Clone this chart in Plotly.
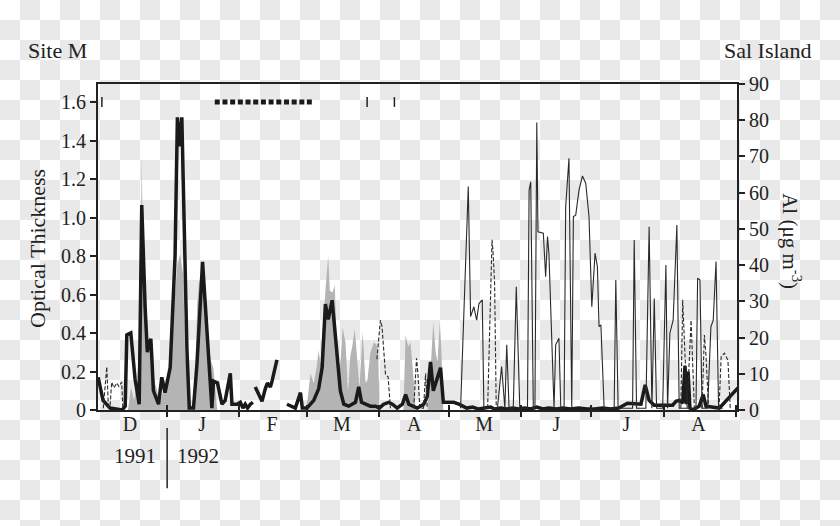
import numpy as np
import pandas as pd
import plotly.graph_objects as go

# days counted from 1 Dec 1991
origin = pd.Timestamp("1991-12-01")

thick_days = [
    1.4, 3.5, 6.5, 11.7, 13.0, 13.7, 15.4, 17.25, 19.0, 20.1,
    21.55, 22.5, 23.4, 24.0, 24.4, 25.1, 27.3, 28.7, 30.1, 32.3,
    34.4, 35.4, 36.3, 37.3, 39.5, 40.5, 42.3, 43.8, 46.2, 48.1,
    50.2, 50.9, 52.6, 54.5, 55.9, 58.1, 58.8, 61.0, 62.4, 63.5,
    64.5, 65.5, 66.7, 67.8, 68.3, 68.8, 71.7, 73.1, 74.0, 75.3,
    76.0, 78.1, 80.0, 82.4, 84.6, 86.0, 88.2, 89.0, 91.0, 93.9,
    96.0, 97.5, 98.9, 100.1, 101.8, 102.5, 103.9, 105.3, 106.8, 108.9,
    111.8, 113.2, 114.4, 116.1, 118.2, 120.4, 122.1, 123.9, 126.1, 127.6,
    129.7, 131.9, 133.3, 134.7, 136.8, 138.3, 139.7, 141.1, 142.6, 144.0,
    145.2, 146.4, 147.6, 148.3, 149.5, 151.2, 154.0, 156.2, 157.6, 159.5,
    162.1, 164.6, 167.2, 169.8, 171.5, 174.1, 176.7, 179.3, 181.8, 184.4,
    187.0, 189.6, 192.2, 194.7, 198.2, 200.7, 204.2, 207.6, 211.1, 214.5,
    217.9, 221.4, 224.8, 227.1, 228.5, 234.3, 236.1, 237.8, 240.0, 247.9,
    249.3, 250.7, 252.2, 253.2, 253.8, 254.5, 255.3, 256.5, 259.3, 261.0,
    262.2, 267.9, 275.9,
]
thick_vals = [
    0.17, 0.05, 0.01, 0.0, 0.02, 0.39, 0.40, 0.16, 0.03, 1.065,
    0.535, 0.30, 0.35, 0.37, 0.28, 0.10, 0.03, 0.17, 0.09, 0.22,
    0.80, 1.52, 1.37, 1.52, 0.31, 0.01, 0.01, 0.24, 0.77, 0.38,
    0.01, 0.15, 0.14, 0.03, 0.05, 0.19, 0.03, 0.03, 0.04, 0.01,
    0.03, 0.01, 0.03, 0.04, None, 0.12, 0.045, 0.11, 0.14, 0.12,
    0.15, 0.26, None, 0.03, 0.02, 0.01, 0.09, 0.01, 0.01, 0.05,
    0.11, 0.22, 0.55, 0.47, 0.57, 0.48, 0.28, 0.10, 0.03, 0.02,
    0.04, 0.12, 0.04, 0.03, 0.02, 0.02, 0.01, 0.03, 0.04, 0.03,
    0.01, 0.03, 0.08, 0.03, 0.02, 0.01, 0.02, 0.03, 0.07, 0.25,
    0.10, 0.15, 0.20, 0.22, 0.04, 0.04, 0.04, 0.03, 0.02, 0.01,
    0.015, 0.005, 0.01, 0.015, 0.005, 0.01, 0.005, 0.01, 0.005, 0.01,
    0.005, 0.015, 0.005, 0.01, 0.005, 0.01, 0.005, 0.01, 0.005, 0.005,
    0.01, 0.005, 0.01, 0.026, 0.035, 0.03, 0.13, 0.05, 0.025, 0.025,
    0.045, 0.05, 0.035, 0.23, 0.03, 0.20, 0.01, 0.0, 0.02, 0.08,
    0.02, 0.01, 0.115,
]

gray_days = [
    14.2, 15.5, 16.8, 18.1, 19.2, 20.1, 20.7, 21.5, 22.8, 24.1,
    25.0, 25.8, 26.7, 27.6, 28.4, 29.3, 30.6, 32.3, 34.0, 35.4,
    36.6, 37.9, 38.7, 39.5, 40.0, 40.9, 42.2, 43.0, 43.9, 44.8,
    45.6, 46.5, 47.3, 48.2, 49.0, 49.9, 50.8, 51.6, 52.5,
    90.3, 91.2, 92.5, 93.9, 95.1, 96.0, 96.8, 97.8, 98.9, 100.1,
    100.8, 102.0, 102.9, 103.6, 104.4, 105.4, 106.3, 107.5, 108.6, 109.6,
    110.4, 111.5, 112.5, 113.5, 114.9, 116.1, 116.9, 118.2, 119.7, 120.8,
    121.6, 122.1,
    132.4, 133.3, 134.4, 135.4, 136.5, 137.6,
    142.7, 144.0, 145.2, 146.2, 147.0, 148.0, 148.7, 149.5,
]
gray_vals = [
    0.0, 0.12, 0.05, 0.15, 0.35, 1.32, 0.70, 0.45, 0.33, 0.35,
    0.20, 0.14, 0.10, 0.04, 0.06, 0.10, 0.14, 0.25, 0.55, 0.75,
    0.81, 0.70, 0.30, 0.21, 0.05, 0.0, 0.0, 0.15, 0.55, 0.68,
    0.62, 0.66, 0.47, 0.42, 0.30, 0.25, 0.22, 0.12, 0.0,
    0.0, 0.05, 0.19, 0.14, 0.22, 0.31, 0.24, 0.45, 0.62, 0.80,
    0.62, 0.61, 0.65, 0.40, 0.16, 0.25, 0.43, 0.35, 0.10, 0.28,
    0.33, 0.42, 0.28, 0.12, 0.405, 0.14, 0.15, 0.30, 0.35, 0.34,
    0.28, 0.0,
    0.0, 0.39, 0.33, 0.35, 0.20, 0.0,
    0.0, 0.20, 0.46, 0.30, 0.25, 0.46, 0.30, 0.0,
]

dash_days = [
    3.6, 5.1, 5.8, 6.5, 7.2, 8.2, 9.4, 10.3, 11.5, 12.0, 12.5,
    121.0, 122.5, 123.2, 123.9, 124.7, 125.8, 126.8, 127.3,
    136.8, 138.0, 138.6, 139.4, 141.0, 141.9, 142.6, 143.1,
    168.5, 170.0, 170.4, 170.8, 171.5, 172.2, 172.7,
    251.4, 252.2, 253.2, 254.1, 255.8, 257.2, 257.7,
    260.5, 261.5, 262.2, 263.3, 263.8,
    267.8, 268.7, 270.1, 271.6, 272.6,
]
dash_vals = [
    0.5, 11.9, 0.9, 1.0, 7.7, 6.1, 7.5, 6.5, 7.7, 0.5, None,
    14.0, 24.8, 23.0, 16.6, 9.7, 9.2, 0.5, None,
    0.5, 14.3, 10.0, 0.5, 0.5, 10.1, 0.5, None,
    0.5, 40.0, 47.0, 44.0, 35.0, 0.5, None,
    0.5, 30.4, 15.0, 0.5, 24.8, 0.5, None,
    0.5, 20.7, 15.0, 0.5, None,
    0.5, 14.7, 15.7, 13.8, 0.5,
]

thin_days = [
    156.9, 160.2, 161.2, 162.6, 163.8, 164.8, 166.2, 166.9, 172.7, 174.5,
    175.9, 176.7, 177.7, 179.5, 180.8, 182.3, 185.6, 186.3, 187.0, 188.1,
    188.8, 189.6, 190.1, 192.4, 193.4, 194.2, 194.8, 197.0, 197.7, 199.1,
    199.9, 201.3, 202.0, 203.4, 204.6, 205.3, 206.3, 207.7, 209.2, 210.6,
    212.0, 213.2, 214.6, 215.6, 216.3, 217.1, 218.5, 222.8, 223.5, 224.5,
    230.7, 231.4, 232.4, 236.4, 237.8, 239.0, 240.0, 241.0, 243.6, 245.0,
    245.7, 246.7, 248.1, 249.0, 249.7, 250.7, 257.9, 258.6, 259.6, 260.5,
    262.9, 264.3, 265.3, 266.5, 267.6, 269.4,
]
thin_vals = [
    0.5, 61.7, 25.8, 28.5, 24.8, 29.4, 30.4, 0.5, 0.5, 12.0,
    0.5, 18.0, 0.5, 0.5, 34.0, 0.5, 0.5, 60.7, 63.0, 0.5,
    0.5, 79.4, 49.2, 48.8, 36.8, 47.9, 43.3, 0.5, 18.0, 19.8,
    0.5, 0.5, 56.1, 69.5, 0.5, 53.4, 53.8, 60.7, 64.6, 62.6,
    53.4, 28.5, 43.3, 39.6, 23.0, 23.5, 0.5, 0.5, 35.9, 0.5,
    0.5, 46.9, 0.5, 0.5, 50.6, 0.5, 30.8, 0.5, 0.5, 40.0,
    0.5, 21.2, 24.8, 43.3, 51.1, 0.5, 0.5, 36.4, 35.9, 0.5,
    0.5, 23.0, 24.8, 41.0, 0.5, 0.5,
]

square_days = [52.5, 55.8, 59.1, 62.4, 65.7, 69.0, 72.3, 75.6, 78.9, 82.2, 85.5, 88.8, 92.0]
bar_days = [3.0, 116.8, 128.5]

month_starts = ["1992-01-01", "1992-02-01", "1992-03-01", "1992-04-01", "1992-05-01",
                "1992-06-01", "1992-07-01", "1992-08-01", "1992-09-01"]
month_mids = ["1991-12-16", "1992-01-16", "1992-02-15", "1992-03-16", "1992-04-16",
              "1992-05-16", "1992-06-16", "1992-07-16", "1992-08-16"]
month_labels = ["D", "J", "F", "M", "A", "M", "J", "J", "A"]

left_ticks = [0, 0.2, 0.4, 0.6, 0.8, 1.0, 1.2, 1.4, 1.6]
left_labels = ["0", "0.2", "0.4", "0.6", "0.8", "1.0", "1.2", "1.4", "1.6"]


def to_dates(days):
    return origin + pd.to_timedelta(np.array(days, dtype=float), unit="D")


ink = "#222222"
serif = "Liberation Serif"
xrange_ = ["1991-12-02 08:00", "1992-09-01 12:00"]

fig = go.Figure()

fig.add_trace(go.Scatter(
    x=to_dates(gray_days), y=gray_vals, mode="lines", fill="tozeroy",
    fillcolor="#b4b4b4", line=dict(width=0, color="#b4b4b4"), hoverinfo="skip",
))
fig.add_trace(go.Scatter(
    x=to_dates(thick_days), y=thick_vals, mode="lines",
    line=dict(color="#1a1a1a", width=3.5), cliponaxis=False,
))
fig.add_trace(go.Scatter(
    x=to_dates(square_days), y=[1.6] * len(square_days), mode="markers",
    marker=dict(symbol="square", size=5, color="#1a1a1a"),
))
fig.add_trace(go.Scatter(
    x=to_dates(bar_days), y=[1.6] * len(bar_days), mode="markers",
    marker=dict(symbol="line-ns", size=7, line=dict(width=1.5, color=ink)),
))
fig.add_trace(go.Scatter(
    x=to_dates(thin_days), y=thin_vals, mode="lines", xaxis="x2", yaxis="y2",
    line=dict(color="#2a2a2a", width=1.1),
))
fig.add_trace(go.Scatter(
    x=to_dates(dash_days), y=dash_vals, mode="lines", xaxis="x2", yaxis="y2",
    line=dict(color="#2a2a2a", width=1.1, dash="4px,2px"),
))

# checkerboard backdrop of the reference image
W, H, L, T, PW, PH = 840, 526, 98, 84, 639, 326
for i in range(W // 20 + 1):
    for j in range(H // 20 + 1):
        if (i + j) % 2:
            fig.add_shape(
                type="rect", xref="paper", yref="paper", layer="below",
                x0=(20 * i - L) / PW, x1=(20 * i + 20 - L) / PW,
                y0=(T + PH - 20 * j - 20) / PH, y1=(T + PH - 20 * j) / PH,
                fillcolor="#e9e9e9", line=dict(width=0),
            )

# year separator
fig.add_shape(type="line", xref="x", yref="paper", x0="1992-01-01", x1="1992-01-01",
              y0=-0.055, y1=-0.24, line=dict(color=ink, width=1.5))

font = dict(family=serif, size=20, color=ink)


def label(text, x, y, size, angle=0):
    fig.add_annotation(text=text, x=x, y=y, xref="paper", yref="paper",
                       xanchor="center", yanchor="middle", showarrow=False,
                       textangle=angle, font=dict(family=serif, size=size, color=ink))


label("Site M", -0.064, 1.104, 22)
label("Sal Island", 1.0485, 1.104, 22)
label("Optical Thickness", -0.094, 0.497, 22, -90)
label("Al (\u03bcg m<sup>-3</sup>)", 1.086, 0.518, 21, 90)
label("1991", 0.058, -0.141, 21)
label("1992", 0.156, -0.141, 21)

fig.update_layout(
    width=W, height=H,
    margin=dict(l=L, r=W - L - PW, t=T, b=H - T - PH),
    paper_bgcolor="white",
    plot_bgcolor="rgba(0,0,0,0)",
    showlegend=False,
    font=font,
    xaxis=dict(
        type="date", range=xrange_,
        tickmode="array", tickvals=month_mids, ticktext=month_labels,
        ticks="", ticklabelstandoff=-5,
        showline=True, linecolor=ink, linewidth=2, mirror=True,
        showgrid=False, zeroline=False,
        minor=dict(tickmode="array", tickvals=month_starts, ticks="outside",
                   ticklen=5, tickwidth=1.5, tickcolor=ink, showgrid=False),
    ),
    xaxis2=dict(
        type="date", range=xrange_, overlaying="x", anchor="y",
        tickmode="array", tickvals=month_starts, ticks="inside", ticklen=5,
        tickwidth=1.5, tickcolor=ink, showticklabels=False,
        showline=False, showgrid=False, zeroline=False,
    ),
    yaxis=dict(
        range=[0, 1.6935], tickmode="array", tickvals=left_ticks, ticktext=left_labels,
        ticks="outside", ticklen=6, tickwidth=2, tickcolor=ink,
        showline=True, linecolor=ink, linewidth=2,
        showgrid=False, zeroline=False,
    ),
    yaxis2=dict(
        range=[0, 90], overlaying="y", side="right", anchor="x", dtick=10,
        ticks="outside", ticklen=6, tickwidth=2, tickcolor=ink,
        showline=True, linecolor=ink, linewidth=2,
        showgrid=False, zeroline=False,
    ),
)

fig.write_html("out.html", config={"displayModeBar": False},
               post_script="document.body.style.margin='0';")
